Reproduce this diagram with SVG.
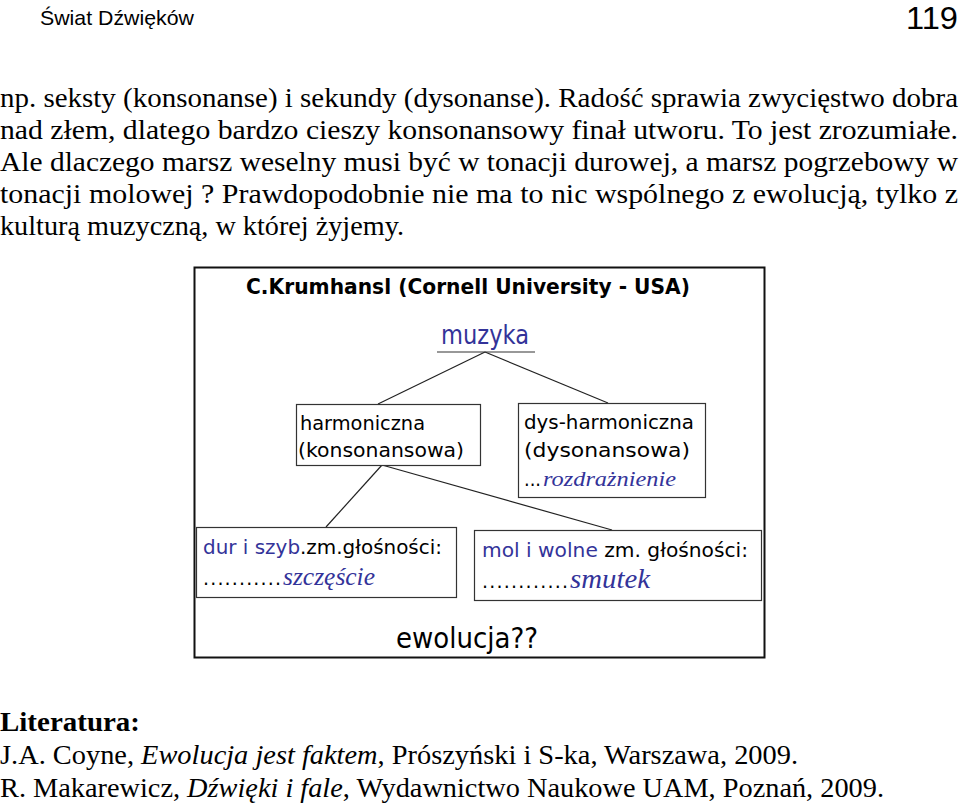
<svg xmlns="http://www.w3.org/2000/svg" width="960" height="807" viewBox="0 0 960 807">
<style>
.hdr{font-family:"Liberation Sans",Arial,sans-serif;fill:#000}
.body{font-family:"Liberation Serif","Times New Roman",serif;font-size:28px;fill:#000}
.dg{font-family:"DejaVu Sans",Verdana,sans-serif;fill:#000}
.blue{fill:#333399}
.scr{font-family:"Liberation Serif","Times New Roman",serif;font-style:italic;fill:#333399}
.box{fill:#fff;stroke:#333;stroke-width:1.2}
.conn line{stroke:#222;stroke-width:1.2}
</style>
<rect width="960" height="807" fill="#fff"/>
<text class="hdr" x="40" y="25" font-size="21" textLength="154" lengthAdjust="spacingAndGlyphs">Świat Dźwięków</text>
<text class="hdr" x="958" y="29" font-size="31" text-anchor="end" textLength="52" lengthAdjust="spacingAndGlyphs">119</text>

<text class="body" x="0" y="107" textLength="958" lengthAdjust="spacingAndGlyphs">np. seksty (konsonanse) i sekundy (dysonanse). Radość sprawia zwycięstwo dobra</text>
<text class="body" x="0" y="139" textLength="958" lengthAdjust="spacingAndGlyphs">nad złem, dlatego bardzo cieszy konsonansowy finał utworu. To jest zrozumiałe.</text>
<text class="body" x="0" y="171" textLength="958" lengthAdjust="spacingAndGlyphs">Ale dlaczego marsz weselny musi być w tonacji durowej, a marsz pogrzebowy w</text>
<text class="body" x="0" y="203" textLength="958" lengthAdjust="spacingAndGlyphs">tonacji molowej ? Prawdopodobnie nie ma to nic wspólnego z ewolucją, tylko z</text>
<text class="body" x="0" y="235" textLength="404" lengthAdjust="spacingAndGlyphs">kulturą muzyczną, w której żyjemy.</text>

<g id="frame">
<rect x="194.5" y="267.5" width="570" height="390" fill="#fff" stroke="#111" stroke-width="2"/>
<text class="dg" x="246" y="294" font-size="21" font-weight="bold" textLength="444" lengthAdjust="spacingAndGlyphs">C.Krumhansl (Cornell University - USA)</text>
</g>

<g class="conn" id="connectors">
<line x1="485" y1="352" x2="378" y2="404"/>
<line x1="485" y1="352" x2="608" y2="403"/>
<line x1="382" y1="465" x2="326" y2="527"/>
<line x1="382" y1="465" x2="612" y2="530"/>
</g>

<g id="muzyka">
<text class="dg blue" x="485" y="344" font-size="26" text-anchor="middle" textLength="88" lengthAdjust="spacingAndGlyphs">muzyka</text>
<line x1="437" y1="352" x2="535" y2="352" stroke="#333" stroke-width="1.2"/>
</g>

<g id="harmoniczna">
<rect class="box" x="296.5" y="404.5" width="184" height="61"/>
<text class="dg" x="300" y="430" font-size="20" textLength="125" lengthAdjust="spacingAndGlyphs">harmoniczna</text>
<text class="dg" x="298" y="457" font-size="20" textLength="166" lengthAdjust="spacingAndGlyphs">(konsonansowa)</text>
</g>

<g id="dysharmoniczna">
<rect class="box" x="518.5" y="403.5" width="187" height="94"/>
<text class="dg" x="524" y="429" font-size="20" textLength="170" lengthAdjust="spacingAndGlyphs">dys-harmoniczna</text>
<text class="dg" x="524" y="457" font-size="20" textLength="166" lengthAdjust="spacingAndGlyphs">(dysonansowa)</text>
<text class="dg" x="524" y="486" font-size="20" textLength="17" lengthAdjust="spacingAndGlyphs">...</text>
<text class="scr" x="543" y="486" font-size="22" textLength="133" lengthAdjust="spacingAndGlyphs">rozdrażnienie</text>
</g>

<g id="dur">
<rect class="box" x="196.5" y="527.5" width="260" height="70"/>
<text class="dg" x="203" y="554" font-size="19" textLength="239" lengthAdjust="spacingAndGlyphs"><tspan class="blue">dur i szyb</tspan>.zm.głośności:</text>
<text class="dg" x="203" y="585" font-size="19" textLength="78" lengthAdjust="spacing">...........</text>
<text class="scr" x="283" y="585" font-size="26" textLength="92" lengthAdjust="spacingAndGlyphs">szczęście</text>
</g>

<g id="mol">
<rect class="box" x="474.5" y="530.5" width="287" height="70"/>
<text class="dg" x="482" y="557" font-size="19" textLength="266" lengthAdjust="spacingAndGlyphs"><tspan class="blue">mol i wolne</tspan> zm. głośności:</text>
<text class="dg" x="482" y="588" font-size="19" textLength="86" lengthAdjust="spacing">............</text>
<text class="scr" x="570" y="588" font-size="27" textLength="80" lengthAdjust="spacingAndGlyphs">smutek</text>
</g>

<g id="ewolucja">
<text class="dg" x="467" y="648" font-size="28" text-anchor="middle" textLength="142" lengthAdjust="spacingAndGlyphs">ewolucja??</text>
</g>

<text class="body" x="0" y="731" font-weight="bold" textLength="140" lengthAdjust="spacingAndGlyphs">Literatura:</text>
<text class="body" x="0" y="764" textLength="798" lengthAdjust="spacingAndGlyphs">J.A. Coyne, <tspan font-style="italic">Ewolucja jest faktem</tspan>, Prószyński i S-ka, Warszawa, 2009.</text>
<text class="body" x="0" y="797" textLength="884" lengthAdjust="spacingAndGlyphs">R. Makarewicz, <tspan font-style="italic">Dźwięki i fale</tspan>, Wydawnictwo Naukowe UAM, Poznań, 2009.</text>
</svg>
